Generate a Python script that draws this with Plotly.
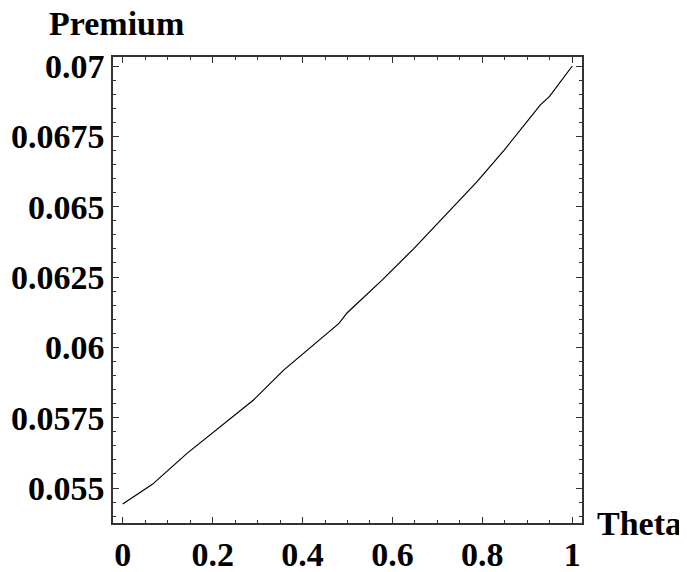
import plotly.graph_objects as go

theta = [0, 0.066, 0.143, 0.239, 0.291, 0.358, 0.4325, 0.481, 0.4994, 0.5775,
         0.648, 0.7148, 0.7877, 0.8486, 0.929, 0.949, 1.0]
premium = [0.05443, 0.05513, 0.05623, 0.05748, 0.05813, 0.05919, 0.0602, 0.06085,
           0.06123, 0.0624, 0.06352, 0.06464, 0.06588, 0.06701, 0.06862, 0.06891, 0.07]

x_ticks = [0, 0.2, 0.4, 0.6, 0.8, 1]
x_labels = ["0", "0.2", "0.4", "0.6", "0.8", "1"]
y_ticks = [0.055, 0.0575, 0.06, 0.0625, 0.065, 0.0675, 0.07]
y_labels = ["0.055", "0.0575", "0.06", "0.0625", "0.065", "0.0675", "0.07"]

FONT = "Liberation Serif"
fig = go.Figure()
fig.add_trace(go.Scatter(x=theta, y=premium, mode="lines",
                         line=dict(color="black", width=1.2), showlegend=False))

axis_common = dict(showline=True, linecolor="#333", linewidth=1.5, mirror="ticks",
                   ticks="inside", ticklen=6, tickwidth=1, tickcolor="#333",
                   showgrid=False, zeroline=False, automargin=False,
                   tickfont=dict(family=FONT, size=34, color="black", weight="bold"))
fig.update_xaxes(range=[-0.0216, 1.0216], tickvals=x_ticks, ticktext=x_labels,
                 minor=dict(dtick=0.05, tick0=0, ticks="inside", ticklen=3,
                            tickcolor="#333", showgrid=False),
                 **axis_common)
fig.update_yaxes(range=[0.053756, 0.07032], tickvals=y_ticks, ticktext=y_labels,
                 minor=dict(dtick=0.0005, tick0=0.055, ticks="inside", ticklen=3,
                            tickcolor="#333", showgrid=False),
                 **axis_common)

fig.add_annotation(text="<b>Premium</b>", xref="paper", yref="paper",
                   x=0.0085, y=1.071, xanchor="center", yanchor="middle", showarrow=False,
                   font=dict(family=FONT, size=34, color="black"))
fig.add_annotation(text="<b>Theta</b>", xref="paper", yref="paper",
                   x=1.123, y=0.0, xanchor="center", yanchor="middle", showarrow=False,
                   font=dict(family=FONT, size=34, color="black"))

fig.update_layout(width=679, height=564, paper_bgcolor="white", plot_bgcolor="white",
                  margin=dict(l=105, r=105.3, t=49, b=49))
fig.write_html("out.html")
